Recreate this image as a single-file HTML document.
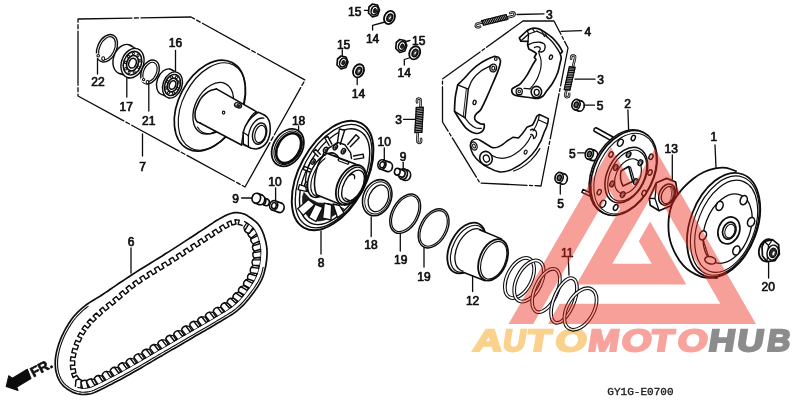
<!DOCTYPE html>
<html><head><meta charset="utf-8"><title>Parts diagram</title>
<style>
html,body{margin:0;padding:0;background:#fff;}
body{width:800px;height:403px;overflow:hidden;}
svg{display:block;}
svg text{font-family:"Liberation Sans",sans-serif;fill:#111;}
</style></head><body>
<svg width="800" height="403" viewBox="0 0 800 403" fill="none" stroke="#0c0c0c" stroke-linecap="round" stroke-linejoin="round">
<rect x="0" y="0" width="800" height="403" fill="#fff" stroke="none"/>
<path d="M78,19 L191,17 L305,80 L245,187 L78,96 Z" fill="none" stroke-width="1.3" stroke-dasharray="54 2.5 4 2.5"/>
<ellipse cx="107" cy="48.3" rx="9.5" ry="14.5" transform="rotate(25 107 48.3)" fill="#fff" stroke-width="1.43" />
<ellipse cx="107" cy="48.3" rx="7.3" ry="12.3" transform="rotate(25 107 48.3)" fill="#fff" stroke-width="1.17" />
<path d="M97.2,55.5 L101.5,57.5" fill="none" stroke-width="4.16" stroke="#fff"/>
<ellipse cx="98.2" cy="55.8" rx="1.3" ry="1.3" transform="rotate(0 98.2 55.8)" fill="#fff" stroke-width="1.04" />
<ellipse cx="103.2" cy="58.6" rx="1.5" ry="1.8" transform="rotate(0 103.2 58.6)" fill="#fff" stroke-width="1.04" />
<ellipse cx="124.5" cy="59.2" rx="11" ry="15.2" transform="rotate(20 124.5 59.2)" fill="#fff" stroke-width="1.43" />
<path d="M135.8,48.5 L127.8,44.5 L121.2,73.9 L129.2,77.9Z" fill="#fff" stroke-width="0.01" stroke="#fff"/>
<line x1="135.82479112743678" y1="48.48036508759276" x2="127.8247911274368" y2="44.48036508759276" stroke-width="1.3" />
<line x1="129.17520887256322" y1="77.91963491240725" x2="121.1752088725632" y2="73.91963491240725" stroke-width="1.3" />
<ellipse cx="132.5" cy="63.2" rx="11" ry="15.2" transform="rotate(20 132.5 63.2)" fill="#fff" stroke-width="1.43" />
<ellipse cx="132.5" cy="63.2" rx="8.8" ry="12.16" transform="rotate(20 132.5 63.2)" fill="none" stroke-width="1.56" />
<ellipse cx="132.5" cy="63.2" rx="5.720000000000001" ry="7.904" transform="rotate(20 132.5 63.2)" fill="none" stroke-width="1.69" />
<ellipse cx="132.5" cy="63.2" rx="3.6300000000000003" ry="5.016" transform="rotate(20 132.5 63.2)" fill="#fff" stroke-width="1.56" />
<ellipse cx="138.5" cy="67.2" rx="1.0" ry="1.2" transform="rotate(20 138.5 67.2)" fill="none" stroke-width="0.91" />
<ellipse cx="134.2" cy="71.9" rx="1.0" ry="1.2" transform="rotate(20 134.2 71.9)" fill="none" stroke-width="0.91" />
<ellipse cx="129.1" cy="72.5" rx="1.0" ry="1.2" transform="rotate(20 129.1 72.5)" fill="none" stroke-width="0.91" />
<ellipse cx="125.6" cy="68.7" rx="1.0" ry="1.2" transform="rotate(20 125.6 68.7)" fill="none" stroke-width="0.91" />
<ellipse cx="125.3" cy="62.4" rx="1.0" ry="1.2" transform="rotate(20 125.3 62.4)" fill="none" stroke-width="0.91" />
<ellipse cx="128.4" cy="56.4" rx="1.0" ry="1.2" transform="rotate(20 128.4 56.4)" fill="none" stroke-width="0.91" />
<ellipse cx="133.4" cy="53.6" rx="1.0" ry="1.2" transform="rotate(20 133.4 53.6)" fill="none" stroke-width="0.91" />
<ellipse cx="138.0" cy="55.3" rx="1.0" ry="1.2" transform="rotate(20 138.0 55.3)" fill="none" stroke-width="0.91" />
<ellipse cx="140.0" cy="60.7" rx="1.0" ry="1.2" transform="rotate(20 140.0 60.7)" fill="none" stroke-width="0.91" />
<ellipse cx="150" cy="72" rx="8.5" ry="12.5" transform="rotate(25 150 72)" fill="#fff" stroke-width="1.43" />
<ellipse cx="150" cy="72" rx="6.3" ry="10.3" transform="rotate(25 150 72)" fill="#fff" stroke-width="1.17" />
<path d="M142.5,79.5 L146,81.5" fill="none" stroke-width="3.9" stroke="#fff"/>
<ellipse cx="143.6" cy="79.6" rx="1.2" ry="1.2" transform="rotate(0 143.6 79.6)" fill="#fff" stroke-width="1.04" />
<ellipse cx="147.5" cy="82.2" rx="1.4" ry="1.6" transform="rotate(0 147.5 82.2)" fill="#fff" stroke-width="1.04" />
<ellipse cx="166.5" cy="82" rx="9.5" ry="13.5" transform="rotate(20 166.5 82)" fill="#fff" stroke-width="1.43" />
<path d="M175.5,71.9 L169.5,68.9 L163.5,95.1 L169.5,98.1Z" fill="#fff" stroke-width="0.01" stroke="#fff"/>
<line x1="175.4969540431697" y1="71.94266003279073" x2="169.4969540431697" y2="68.94266003279073" stroke-width="1.3" />
<line x1="169.5030459568303" y1="98.05733996720927" x2="163.5030459568303" y2="95.05733996720927" stroke-width="1.3" />
<ellipse cx="172.5" cy="85" rx="9.5" ry="13.5" transform="rotate(20 172.5 85)" fill="#fff" stroke-width="1.43" />
<ellipse cx="172.5" cy="85" rx="7.6000000000000005" ry="10.8" transform="rotate(20 172.5 85)" fill="none" stroke-width="1.56" />
<ellipse cx="172.5" cy="85" rx="4.94" ry="7.0200000000000005" transform="rotate(20 172.5 85)" fill="none" stroke-width="1.69" />
<ellipse cx="172.5" cy="85" rx="3.1350000000000002" ry="4.455" transform="rotate(20 172.5 85)" fill="#fff" stroke-width="1.56" />
<ellipse cx="177.7" cy="88.5" rx="1.0" ry="1.2" transform="rotate(20 177.7 88.5)" fill="none" stroke-width="0.91" />
<ellipse cx="173.4" cy="93.0" rx="1.0" ry="1.2" transform="rotate(20 173.4 93.0)" fill="none" stroke-width="0.91" />
<ellipse cx="168.5" cy="92.8" rx="1.0" ry="1.2" transform="rotate(20 168.5 92.8)" fill="none" stroke-width="0.91" />
<ellipse cx="166.0" cy="88.0" rx="1.0" ry="1.2" transform="rotate(20 166.0 88.0)" fill="none" stroke-width="0.91" />
<ellipse cx="167.3" cy="81.5" rx="1.0" ry="1.2" transform="rotate(20 167.3 81.5)" fill="none" stroke-width="0.91" />
<ellipse cx="171.6" cy="77.0" rx="1.0" ry="1.2" transform="rotate(20 171.6 77.0)" fill="none" stroke-width="0.91" />
<ellipse cx="176.5" cy="77.2" rx="1.0" ry="1.2" transform="rotate(20 176.5 77.2)" fill="none" stroke-width="0.91" />
<ellipse cx="179.0" cy="82.0" rx="1.0" ry="1.2" transform="rotate(20 179.0 82.0)" fill="none" stroke-width="0.91" />
<ellipse cx="209.8" cy="105.6" rx="31.2" ry="48.5" transform="rotate(27.3 209.8 105.6)" fill="#fff" stroke-width="1.69" />
<ellipse cx="212" cy="106.5" rx="29.4" ry="46.7" transform="rotate(27.3 212 106.5)" fill="none" stroke-width="1.17" />
<ellipse cx="213.2" cy="108.3" rx="18" ry="27.5" transform="rotate(27 213.2 108.3)" fill="none" stroke-width="1.3" />
<path d="M197.5,127 C200,131.5 205,134 210,133.8 C214,133.5 217,132 219,130" fill="none" stroke-width="1.17" />
<path d="M216.4,88.9 C215.4,89.2 212.3,89.7 210.5,90.5 C208.7,91.3 206.9,92.5 205.3,93.8 C203.7,95.1 202.0,96.8 200.8,98.6 C199.6,100.3 198.8,102.4 197.9,104.3 C197.0,106.2 196.1,108.3 195.6,110.0 C195.1,111.7 195.0,113.3 195.0,114.7 C195.0,116.1 195.1,117.4 195.4,118.5 C195.7,119.6 196.0,120.5 196.8,121.3 C197.6,122.0 199.5,122.7 200.0,123.0 L241.5,145 L256.3,111.6 Z" fill="#fff" stroke-width="0.01" stroke="#fff"/>
<line x1="216.4" y1="88.9" x2="256.3" y2="111.6" stroke-width="1.56" />
<line x1="200" y1="123" x2="241.5" y2="145" stroke-width="1.56" />
<path d="M216.4,88.9 C215.4,89.2 212.3,89.7 210.5,90.5 C208.7,91.3 206.9,92.5 205.3,93.8 C203.7,95.1 202.0,96.8 200.8,98.6 C199.6,100.3 198.8,102.4 197.9,104.3 C197.0,106.2 196.1,108.3 195.6,110.0 C195.1,111.7 195.0,113.3 195.0,114.7 C195.0,116.1 195.1,117.4 195.4,118.5 C195.7,119.6 196.0,120.5 196.8,121.3 C197.6,122.0 199.5,122.7 200.0,123.0" fill="none" stroke-width="1.56" />
<path d="M256.3,111.6 C249,116 243,130 241.5,145" fill="none" stroke-width="1.3" />
<path d="M257.4,112.0 C250.2,116.5 244.2,130.5 242.7,145.0" fill="none" stroke-width="0.72" />
<path d="M258.6,112.5 C251.3,117.0 245.3,131.0 243.8,145.5" fill="none" stroke-width="0.72" />
<path d="M259.8,113.0 C252.4,117.5 246.4,131.5 244.9,146.0" fill="none" stroke-width="0.72" />
<path d="M260.9,113.5 C253.6,118.0 247.6,132.0 246.1,146.5" fill="none" stroke-width="0.72" />
<path d="M258.5,112.3 L262.3,114.1 C266,115.5 269,119 269.8,123.7 C270.8,130 269.8,137 267,142 C264.5,146 261,148.2 256,149 L251,148.3 L243.2,144 L243.2,132.3 C244.5,125 251,116 258.5,112.3 Z" fill="#fff" stroke-width="1.56" />
<path d="M243.2,132.3 L248.4,135.8 L248.4,146.8" fill="none" stroke-width="1.3" />
<path d="M248.4,135.8 C249.5,129 252,124.5 255,121.5 C258,118.5 261,117.5 263.8,118.2" fill="none" stroke-width="1.3" />
<ellipse cx="259.6" cy="133.6" rx="6.8" ry="10.8" transform="rotate(15 259.6 133.6)" fill="#fff" stroke-width="1.43" />
<ellipse cx="260.3" cy="134" rx="5.2" ry="8.8" transform="rotate(15 260.3 134)" fill="none" stroke-width="1.17" />
<ellipse cx="238" cy="105.3" rx="3.6" ry="2.3" transform="rotate(22 238 105.3)" fill="#fff" stroke-width="1.43" />
<ellipse cx="238.4" cy="105.6" rx="1.9" ry="1.0" transform="rotate(22 238.4 105.6)" fill="#333" stroke-width="0.78" />
<ellipse cx="223.6" cy="112.6" rx="1.2" ry="1.5" transform="rotate(0 223.6 112.6)" fill="none" stroke-width="1.17" />
<text x="98" y="86.1" font-size="12" text-anchor="middle" stroke="#111" stroke-width="0.7" >22</text>
<line x1="97.5" y1="59" x2="97.5" y2="74" stroke-width="1.3" />
<text x="126.3" y="111.1" font-size="12" text-anchor="middle" stroke="#111" stroke-width="0.7" >17</text>
<line x1="126.8" y1="78" x2="126.8" y2="97" stroke-width="1.3" />
<text x="148.8" y="125.1" font-size="12" text-anchor="middle" stroke="#111" stroke-width="0.7" >21</text>
<line x1="148.8" y1="83" x2="148.8" y2="111" stroke-width="1.3" />
<text x="175.5" y="47.4" font-size="12" text-anchor="middle" stroke="#111" stroke-width="0.7" >16</text>
<line x1="175.5" y1="50.5" x2="175.5" y2="71" stroke-width="1.3" />
<text x="142.5" y="170.8" font-size="12" text-anchor="middle" stroke="#111" stroke-width="0.7" >7</text>
<line x1="142.5" y1="134" x2="142.5" y2="156" stroke-width="1.3" />
<ellipse cx="287.75" cy="147.65" rx="14.5" ry="20" transform="rotate(31 287.75 147.65)" fill="#fff" stroke-width="1.82" />
<ellipse cx="288.15" cy="147.85" rx="12.6" ry="18.0" transform="rotate(31 288.15 147.85)" fill="none" stroke-width="1.04" />
<ellipse cx="288.65" cy="148.15" rx="10.9" ry="16.1" transform="rotate(31 288.65 148.15)" fill="#fff" stroke-width="2.6" />
<text x="298.6" y="125.3" font-size="12" text-anchor="middle" stroke="#111" stroke-width="0.7" >18</text>
<line x1="298.6" y1="126" x2="298.6" y2="131.5" stroke-width="1.3" />
<ellipse cx="332.6" cy="175.5" rx="33.4" ry="59.5" transform="rotate(28.5 332.6 175.5)" fill="#fff" stroke-width="1.95" />
<ellipse cx="333.6" cy="176.1" rx="31.2" ry="56.3" transform="rotate(28.5 333.6 176.1)" fill="none" stroke-width="1.3" />
<ellipse cx="334.6" cy="176.7" rx="28.2" ry="52.2" transform="rotate(28.5 334.6 176.7)" fill="none" stroke-width="1.43" />
<path d="M330.0,217.6 L328.1,218.6 L326.1,219.4 L324.2,220.0 L322.3,220.5 L320.5,220.8 L318.7,220.9 L317.0,220.8 L315.4,220.6 L313.8,220.2 L312.4,219.7 L311.0,218.9 L309.7,218.0 L308.5,217.0 L307.4,215.7 L306.4,214.4 L305.5,212.9 L304.7,211.2 L304.1,209.4 L303.5,207.5 L303.1,205.4 L302.8,203.3 L302.6,201.0 L302.6,198.7 L302.7,196.2 L304.0,192.5 L310.0,199.0 L318.0,203.0 L328.0,203.5 L338.0,205.5 L344.0,209.0Z" fill="#1c1c1c" stroke-width="0.78" />
<path d="M308.4,199.5 L314.6,204.6 L303.3,215.3 L297.6,208.7Z" fill="#fff" stroke-width="1.3" />
<path d="M315.2,204.3 L322.8,207.4 L316.0,221.5 L308.8,217.3Z" fill="#fff" stroke-width="1.3" />
<path d="M324.3,203.2 L331.6,205.0 L331.0,220.0 L322.6,218.2Z" fill="#fff" stroke-width="1.3" />
<path d="M333.0,204.0 L339.5,205.5 L344.0,213.0 L337.5,217.5Z" fill="#fff" stroke-width="1.3" />
<path d="M299.5,184.6 L308.0,187.4 L307.2,191.6 L298.0,189.6Z" fill="#fff" stroke-width="1.3" />
<path d="M331.8,144.1 L327.8,136.4 L324.8,138.0 L329.2,145.5" fill="#fff" stroke-width="1.43" />
<path d="M340.3,144.3 L344.6,130.2 L339.4,129.0 L337.3,143.7" fill="#fff" stroke-width="1.43" />
<path d="M350.3,146.7 L359.2,137.7 L356.0,134.7 L347.7,144.5" fill="#fff" stroke-width="1.43" />
<path d="M354.2,159.4 L363.7,157.9 L363.1,154.1 L353.6,156.0" fill="#fff" stroke-width="1.43" />
<path d="M320.3,154.2 L315.7,149.6 L313.5,151.8 L318.1,156.4" fill="#fff" stroke-width="1.43" />
<path d="M310.9,169.2 L304.4,166.3 L303.2,169.3 L309.7,172.0" fill="#fff" stroke-width="1.43" />
<path d="M322.4,157 C323,152 327,148.5 331.3,146.5 L337.7,142.4 L345,144.8 L350.6,152.9 L351.5,158.5" fill="none" stroke-width="1.43" />
<path d="M306.5,191 C304,182 306,168 313,158" fill="none" stroke-width="1.3" />
<ellipse cx="325.6" cy="149.9" rx="1.9" ry="2.8" transform="rotate(30 325.6 149.9)" fill="#fff" stroke-width="1.43" />
<ellipse cx="325.90000000000003" cy="150.1" rx="0.9" ry="1.5" transform="rotate(30 325.90000000000003 150.1)" fill="#333" stroke-width="0.52" />
<ellipse cx="335.3" cy="147.3" rx="1.9" ry="2.8" transform="rotate(30 335.3 147.3)" fill="#fff" stroke-width="1.43" />
<ellipse cx="335.6" cy="147.5" rx="0.9" ry="1.5" transform="rotate(30 335.6 147.5)" fill="#333" stroke-width="0.52" />
<ellipse cx="343.4" cy="151.3" rx="1.9" ry="2.8" transform="rotate(30 343.4 151.3)" fill="#fff" stroke-width="1.43" />
<ellipse cx="343.7" cy="151.5" rx="0.9" ry="1.5" transform="rotate(30 343.7 151.5)" fill="#333" stroke-width="0.52" />
<ellipse cx="313" cy="161.5" rx="1.9" ry="2.8" transform="rotate(30 313 161.5)" fill="#fff" stroke-width="1.43" />
<ellipse cx="313.3" cy="161.7" rx="0.9" ry="1.5" transform="rotate(30 313.3 161.7)" fill="#333" stroke-width="0.52" />
<ellipse cx="306.8" cy="184.5" rx="1.9" ry="2.8" transform="rotate(30 306.8 184.5)" fill="#fff" stroke-width="1.43" />
<ellipse cx="307.1" cy="184.7" rx="0.9" ry="1.5" transform="rotate(30 307.1 184.7)" fill="#333" stroke-width="0.52" />
<ellipse cx="313" cy="193.8" rx="1.9" ry="2.8" transform="rotate(30 313 193.8)" fill="#fff" stroke-width="1.43" />
<ellipse cx="313.3" cy="194.0" rx="0.9" ry="1.5" transform="rotate(30 313.3 194.0)" fill="#333" stroke-width="0.52" />
<ellipse cx="323.8" cy="175.2" rx="13.2" ry="24.2" transform="rotate(28 323.8 175.2)" fill="#fff" stroke-width="1.56" />
<ellipse cx="325.6" cy="176" rx="11.8" ry="22.4" transform="rotate(28 325.6 176)" fill="none" stroke-width="1.17" />
<path d="M326.7,153.2 L356,164.2 L341.8,205 L316.5,194.8 Z" fill="#fff" stroke-width="0.01" stroke="#fff"/>
<line x1="326.7" y1="153.2" x2="356" y2="164.2" stroke-width="1.56" />
<line x1="316.5" y1="194.8" x2="341.8" y2="205" stroke-width="1.56" />
<path d="M326.7,153.2 C318,157 311,182 316.5,194.8" fill="none" stroke-width="1.56" />
<path d="M339.6,158.6 L347.8,161.6 C349.3,162.5 348.8,164.3 347.2,164 L339,161 C337.6,160.2 338,158.3 339.6,158.6 Z" fill="none" stroke-width="1.3" />
<ellipse cx="351" cy="185" rx="12.8" ry="21.5" transform="rotate(28 351 185)" fill="#fff" stroke-width="1.82" />
<ellipse cx="351.8" cy="185.3" rx="11.2" ry="19.6" transform="rotate(28 351.8 185.3)" fill="none" stroke-width="1.3" />
<ellipse cx="353" cy="185.8" rx="9.2" ry="17" transform="rotate(28 353 185.8)" fill="none" stroke-width="1.43" />
<path d="M349.5,175.5 C352,173 355.5,174.5 354.5,178.5" fill="none" stroke-width="1.3" />
<path d="M345,198 C350,203 357,200 361,193" fill="none" stroke-width="1.17" />
<text x="321" y="266.8" font-size="12" text-anchor="middle" stroke="#111" stroke-width="0.7" >8</text>
<line x1="321" y1="231" x2="321" y2="254" stroke-width="1.3" />
<ellipse cx="377.2" cy="197.7" rx="13.9" ry="18.7" transform="rotate(23 377.2 197.7)" fill="#fff" stroke-width="1.56" />
<ellipse cx="377.59999999999997" cy="197.89999999999998" rx="12.0" ry="16.7" transform="rotate(23 377.59999999999997 197.89999999999998)" fill="none" stroke-width="0.91" />
<ellipse cx="378.4" cy="198.29999999999998" rx="9.5" ry="13.899999999999999" transform="rotate(23 378.4 198.29999999999998)" fill="#fff" stroke-width="1.3" />
<text x="371" y="249.3" font-size="12" text-anchor="middle" stroke="#111" stroke-width="0.7" >18</text>
<line x1="371.2" y1="217" x2="371.2" y2="236.5" stroke-width="1.3" />
<ellipse cx="405.2" cy="213.7" rx="13.2" ry="21.2" transform="rotate(28.8 405.2 213.7)" fill="#fff" stroke-width="1.43" />
<ellipse cx="405.2" cy="213.7" rx="11.399999999999999" ry="19.4" transform="rotate(28.8 405.2 213.7)" fill="#fff" stroke-width="1.17" />
<ellipse cx="433.6" cy="228.4" rx="13.4" ry="21" transform="rotate(28.4 433.6 228.4)" fill="#fff" stroke-width="1.43" />
<ellipse cx="433.6" cy="228.4" rx="11.6" ry="19.2" transform="rotate(28.4 433.6 228.4)" fill="#fff" stroke-width="1.17" />
<text x="400.8" y="263.8" font-size="12" text-anchor="middle" stroke="#111" stroke-width="0.7" >19</text>
<line x1="400.3" y1="233.5" x2="400.3" y2="251" stroke-width="1.3" />
<text x="424" y="280.8" font-size="12" text-anchor="middle" stroke="#111" stroke-width="0.7" >19</text>
<line x1="424" y1="247.5" x2="424" y2="267" stroke-width="1.3" />
<ellipse cx="466.5" cy="248" rx="16.5" ry="27.2" transform="rotate(27 466.5 248)" fill="#fff" stroke-width="1.82" />
<ellipse cx="468" cy="248.8" rx="15" ry="25.2" transform="rotate(27 468 248.8)" fill="none" stroke-width="1.17" />
<ellipse cx="470.5" cy="250" rx="13.6" ry="22.6" transform="rotate(25 470.5 250)" fill="#fff" stroke-width="1.3" />
<path d="M478.5,229.5 L501,238.8 L485.5,281 L463,272 Z" fill="#fff" stroke-width="0.01" stroke="#fff"/>
<line x1="479.5" y1="229.8" x2="501.5" y2="238.9" stroke-width="1.56" />
<line x1="463.2" y1="272.3" x2="485" y2="280.8" stroke-width="1.56" />
<ellipse cx="493.1" cy="259.9" rx="13.4" ry="21.8" transform="rotate(22.8 493.1 259.9)" fill="#fff" stroke-width="1.82" />
<ellipse cx="493.7" cy="260.2" rx="11.6" ry="19.8" transform="rotate(22.8 493.7 260.2)" fill="none" stroke-width="1.17" />
<text x="472.6" y="304.8" font-size="12" text-anchor="middle" stroke="#111" stroke-width="0.7" >12</text>
<line x1="472.6" y1="276" x2="472.6" y2="291.5" stroke-width="1.3" />
<ellipse cx="519.5" cy="278" rx="12.2" ry="21.7" transform="rotate(27 519.5 278)" fill="none" stroke-width="3.7" />
<ellipse cx="519.5" cy="278" rx="12.2" ry="21.7" transform="rotate(27 519.5 278)" fill="none" stroke-width="1.6" stroke="#fff"/>
<ellipse cx="529" cy="281" rx="12.2" ry="22.2" transform="rotate(27 529 281)" fill="none" stroke-width="3.7" />
<ellipse cx="529" cy="281" rx="12.2" ry="22.2" transform="rotate(27 529 281)" fill="none" stroke-width="1.6" stroke="#fff"/>
<ellipse cx="546" cy="290.5" rx="11.2" ry="23.2" transform="rotate(24 546 290.5)" fill="none" stroke-width="3.7" />
<ellipse cx="546" cy="290.5" rx="11.2" ry="23.2" transform="rotate(24 546 290.5)" fill="none" stroke-width="1.6" stroke="#fff"/>
<ellipse cx="564" cy="300.5" rx="10.2" ry="23.7" transform="rotate(22 564 300.5)" fill="none" stroke-width="3.7" />
<ellipse cx="564" cy="300.5" rx="10.2" ry="23.7" transform="rotate(22 564 300.5)" fill="none" stroke-width="1.6" stroke="#fff"/>
<ellipse cx="580.5" cy="309" rx="13.2" ry="22.7" transform="rotate(30 580.5 309)" fill="none" stroke-width="3.7" />
<ellipse cx="580.5" cy="309" rx="13.2" ry="22.7" transform="rotate(30 580.5 309)" fill="none" stroke-width="1.6" stroke="#fff"/>
<text x="567.2" y="256.5" font-size="12" text-anchor="middle" stroke="#111" stroke-width="0.7" >11</text>
<line x1="568.3" y1="257.5" x2="569" y2="275" stroke-width="1.3" />
<path d="M71.8,319.1 L73.0,317.5 L74.2,316.0 L75.5,314.6 L76.8,313.2 L78.1,311.9 L79.4,310.6 L80.8,309.4 L82.2,308.2 L83.7,306.9 L85.2,305.7 L86.7,304.5 L88.2,303.5 L89.8,302.4 L91.3,301.5 L92.9,300.5 L94.6,299.5 L96.4,298.4 L98.3,297.2 L100.4,296.0 L102.6,294.5 L105.0,292.9 L107.6,291.2 L110.3,289.3 L113.1,287.4 L116.0,285.4 L119.0,283.3 L122.2,281.2 L125.4,279.1 L128.6,277.0 L131.9,274.8 L135.3,272.6 L138.9,270.3 L142.6,268.0 L146.4,265.7 L150.3,263.3 L154.1,260.9 L158.0,258.5 L161.8,256.2 L165.4,253.8 L169.0,251.6 L172.5,249.4 L176.0,247.1 L179.5,244.9 L182.9,242.6 L186.3,240.4 L189.6,238.3 L192.8,236.2 L195.8,234.2 L198.6,232.3 L201.3,230.6 L203.8,229.0 L206.0,227.5 L208.1,226.1 L210.1,224.8 L211.9,223.6 L213.7,222.4 L215.3,221.3 L216.9,220.3 L218.5,219.4 L220.0,218.5 L221.5,217.7 L222.9,216.9 L224.2,216.2 L225.4,215.6 L226.6,215.1 L227.7,214.6 L228.8,214.2 L229.9,213.8 L230.9,213.5 L231.9,213.2 L232.9,213.0 L233.8,212.8 L234.6,212.7 L235.4,212.6 L236.2,212.6 L236.9,212.6 L237.7,212.7 L238.4,212.7 L239.2,212.9 L240.0,213.0 L240.8,213.1 L241.6,213.3 L242.3,213.5 L243.0,213.7 L243.8,213.9 L244.6,214.2 L245.4,214.6 L246.2,215.0 L247.1,215.5 L248.0,216.1 L249.0,216.8 L250.1,217.5 L251.3,218.3 L252.6,219.2 L253.8,220.1 L255.0,221.1 L256.2,222.2 L257.4,223.3 L258.4,224.5 L259.4,225.8 L260.3,227.2 L261.1,228.6 L261.9,230.2 L262.6,231.8 L263.2,233.4 L263.9,235.1 L264.4,236.9 L264.9,238.6 L265.4,240.3 L265.8,241.9 L266.1,243.5 L266.4,245.1 L266.7,246.7 L266.8,248.2 L267.0,249.8 L267.0,251.4 L267.1,253.0 L267.0,254.7 L266.9,256.4 L266.8,258.1 L266.6,259.9 L266.4,261.8 L266.1,263.8 L265.8,265.8 L265.4,267.8 L264.9,269.8 L264.4,271.7 L263.9,273.7 L263.3,275.6 L262.6,277.4 L261.9,279.1 L261.1,280.8 L260.2,282.5 L259.3,284.1 L258.4,285.6 L257.4,287.2 L256.3,288.8 L255.2,290.3 L254.1,291.9 L252.9,293.5 L251.7,295.1 L250.4,296.8 L249.1,298.5 L247.7,300.1 L246.3,301.8 L244.8,303.5 L243.3,305.1 L241.7,306.7 L240.1,308.2 L238.4,309.7 L236.7,311.1 L235.0,312.4 L233.3,313.6 L231.5,314.8 L229.7,315.9 L227.7,317.1 L225.7,318.3 L223.6,319.5 L221.4,320.9 L219.0,322.3 L216.4,323.8 L213.7,325.5 L210.8,327.2 L207.8,328.9 L204.8,330.7 L201.6,332.5 L198.5,334.3 L195.3,336.1 L192.2,337.9 L189.2,339.7 L186.2,341.4 L183.2,343.2 L180.3,344.9 L177.3,346.7 L174.3,348.4 L171.3,350.1 L168.3,351.9 L165.4,353.6 L162.4,355.4 L159.4,357.1 L156.4,358.8 L153.4,360.6 L150.4,362.4 L147.4,364.1 L144.4,365.9 L141.4,367.7 L138.4,369.4 L135.5,371.1 L132.5,372.8 L129.6,374.4 L126.6,376.0 L123.6,377.7 L120.5,379.4 L117.5,381.0 L114.4,382.6 L111.5,384.2 L108.6,385.6 L106.0,387.0 L103.5,388.2 L101.3,389.3 L99.4,390.2 L97.7,391.0 L96.2,391.7 L94.9,392.3 L93.7,392.8 L92.5,393.2 L91.5,393.5 L90.3,393.8 L89.2,394.0 L87.9,394.2 L86.6,394.4 L85.2,394.4 L83.8,394.5 L82.5,394.5 L81.1,394.4 L79.8,394.2 L78.4,394.0 L77.1,393.7 L75.8,393.3 L74.5,392.9 L73.2,392.4 L71.9,391.8 L70.6,391.1 L69.3,390.3 L68.0,389.5 L66.7,388.7 L65.5,387.7 L64.4,386.8 L63.4,385.8 L62.4,384.8 L61.5,383.8 L60.7,382.7 L60.0,381.6 L59.3,380.4 L58.6,379.2 L58.1,378.0 L57.5,376.7 L57.1,375.4 L56.7,374.1 L56.3,372.7 L56.0,371.3 L55.7,369.8 L55.5,368.3 L55.4,366.7 L55.3,365.1 L55.2,363.5 L55.3,361.8 L55.3,360.1 L55.5,358.4 L55.7,356.7 L56.0,354.9 L56.3,353.1 L56.7,351.3 L57.2,349.4 L57.7,347.5 L58.3,345.6 L58.9,343.6 L59.6,341.7 L60.3,339.8 L61.1,337.9 L61.9,336.0 L62.9,334.1 L63.8,332.1 L64.9,330.1 L65.9,328.2 L67.1,326.2 L68.2,324.3 L69.4,322.5 L70.6,320.8 L71.8,319.1Z" fill="#fff" stroke-width="1.69" />
<path d="M263.1,267.3 L262.7,269.2 L262.2,271.2 L261.7,273.0 L261.1,274.8 L260.5,276.6 L259.8,278.2 L259.0,279.8 L258.2,281.4 L257.4,282.9 L256.4,284.4 L255.5,285.9 L254.4,287.5 L253.4,289.0 L252.2,290.5 L251.1,292.1 L249.8,293.7 L248.6,295.4 L247.3,297.0 L245.9,298.7 L244.5,300.3 L243.1,301.9 L241.6,303.5 L240.1,305.0 L238.5,306.5 L236.9,307.9 L235.3,309.3 L233.6,310.5 L232.0,311.7 L230.2,312.8 L228.4,314.0 L226.6,315.1 L224.6,316.3 L222.5,317.6 L220.2,318.9 L217.8,320.3 L215.3,321.9 L212.5,323.5 L209.7,325.2 L206.7,326.9 L203.6,328.7 L200.5,330.5 L197.3,332.3 L194.2,334.2 L191.1,335.9 L188.0,337.7 L185.1,339.5 L182.1,341.2 L179.1,342.9 L176.1,344.7 L173.1,346.4 L170.2,348.2 L167.2,349.9 L164.2,351.6 L161.2,353.4 L158.2,355.1 L155.3,356.9 L152.3,358.6 L149.2,360.4 L146.2,362.2 L143.2,363.9 L140.3,365.7 L137.3,367.4 L134.3,369.1 L131.4,370.8 L128.5,372.4 L125.5,374.0 L122.5,375.7 L119.4,377.3 L116.4,379.0 L113.4,380.6 L110.4,382.1 L107.6,383.6 L104.9,384.9 L102.5,386.2 L100.3,387.2 L98.4,388.1 L96.7,388.9 L95.2,389.6 L94.0,390.2 L92.8,390.6 L91.8,391.0 L90.8,391.3 L89.8,391.5 L88.8,391.7 L87.6,391.9 L86.3,392.1 L85.1,392.1 L83.8,392.2 L82.6,392.2 L81.3,392.1 L80.1,391.9 L78.9,391.7 L77.6,391.5 L76.5,391.1 L75.3,390.7 L74.1,390.3 L72.9,389.7 L71.7,389.1 L70.5,388.4 L69.3,387.6 L68.1,386.8 L67.0,385.9 L65.9,385.1 L65.0,384.2 L64.1,383.3 L63.3,382.3 L62.6,381.4 L61.9,380.3 L61.3,379.3 L60.7,378.2 L60.2,377.1 L59.7,375.9 L59.3,374.7 L58.9,373.5 L58.5,372.2 L58.2,370.8 L58.0,369.4 L57.8,368.0 L57.7,366.5 L57.6,365.0 L57.5,363.5 L57.6,361.9 L57.6,360.3 L57.8,358.7 L58.0,357.0 L58.2,355.3 L58.6,353.6 L59.0,351.8 L59.4,350.0 L59.9,348.1 L60.5,346.2 L61.1,344.4 L61.7,342.5 L62.5,340.6 L63.2,338.8 L64.0,337.0 L64.9,335.1 L65.9,333.1 L66.9,331.2 L68.0,329.3 L69.0,327.4 L70.2,325.6 L71.3,323.8 L72.5,322.1 L73.6,320.5 L74.8,319.0 L76.0,317.5 L77.2,316.2 L78.4,314.8 L79.7,313.6 L81.0,312.3 L82.3,311.1 L83.7,309.9 L85.1,308.7 L86.6,307.5 L88.1,306.4" fill="none" stroke-width="1.1" />
<path d="M78.5,384.5 L75.7,381.2 L79.2,378.8 L76.7,375.3 L73.2,377.7 L71.7,373.7 L75.9,372.8 L75.1,368.6 L70.8,369.5 L70.4,365.2 L74.7,365.2 L74.7,360.9 L70.4,360.9 L70.9,356.7 L75.1,357.6 L76.0,353.4 L71.8,352.5 L73.0,348.3 L77.0,349.7 L78.4,345.7 L74.3,344.3 L75.9,340.3 L79.8,342.1 L81.7,338.2 L77.8,336.4 L79.8,332.6 L83.4,334.8 L85.7,331.2 L82.0,328.9 L84.5,325.4 L87.9,328.1 L90.6,324.8 L87.2,322.1 L90.1,318.9 L93.1,322.0 L96.2,319.0 L93.2,315.9 L96.4,313.0 L99.3,316.2 L102.5,313.3 L99.6,310.1 L102.8,307.3 L105.5,310.7 L108.9,308.0 L106.2,304.6 L109.6,302.0 L112.3,305.3 L115.6,302.6 L112.9,299.2 L116.2,296.5 L119.0,299.7 L122.2,296.9 L119.4,293.6 L122.7,290.8 L125.4,294.1 L128.7,291.4 L126.0,288.1 L129.3,285.4 L131.9,288.8 L135.3,286.2 L132.7,282.8 L136.2,280.3 L138.6,283.8 L142.2,281.4 L139.8,277.9 L143.4,275.5 L145.7,279.1 L149.3,276.8 L147.0,273.2 L150.7,270.9 L152.9,274.6 L156.6,272.4 L154.4,268.7 L158.0,266.5 L160.3,270.1 L163.9,267.9 L161.7,264.2 L165.4,262.0 L167.6,265.6 L171.3,263.4 L169.0,259.7 L172.7,257.4 L175.0,261.0 L178.6,258.7 L176.3,255.1 L179.9,252.8 L182.2,256.4 L185.8,254.0 L183.5,250.4 L187.1,248.1 L189.5,251.7 L193.1,249.3 L190.7,245.7 L194.3,243.4 L196.7,247.0 L200.3,244.6 L197.9,241.0 L201.5,238.7 L203.8,242.3 L207.5,239.9 L205.1,236.3 L208.7,234.0 L211.1,237.6 L214.7,235.2 L212.3,231.6 L215.9,229.3 L218.2,232.9 L221.9,230.6 L219.6,227.0 L223.2,224.8 L225.4,228.5 L229.1,226.4 L227.0,222.7 L230.9,220.8 L231.9,225.0 L236.0,224.0 L235.0,219.8 L239.3,220.1 L238.1,224.2 L242.2,225.4" fill="none" stroke-width="1.43" />
<path d="M244.5,221.5 L245.5,222.1 L246.6,222.8 L247.7,223.6 L248.8,224.4 L249.9,225.2 L250.9,226.0 L251.9,226.9 L252.7,227.7 L253.5,228.6 L254.2,229.5 L254.8,230.4 L255.4,231.6 L256.1,232.9 L256.7,234.3 L257.3,235.7 L257.8,237.2 L258.3,238.8 L258.8,240.3 L259.2,241.8 L259.6,243.3 L259.9,244.7 L260.1,246.1 L260.3,247.5 L260.5,248.8 L260.6,250.2 L260.6,251.6 L260.7,253.0 L260.6,254.4 L260.5,255.9 L260.4,257.5 L260.3,259.2 L260.0,261.0 L259.8,262.8 L259.5,264.6 L259.1,266.5 L258.7,268.3 L258.2,270.1 L257.7,271.8 L257.2,273.5 L256.6,275.1 L256.0,276.6 L255.3,278.0 L254.6,279.4 L253.8,280.8 L253.0,282.3 L252.0,283.7 L251.1,285.1 L250.0,286.6 L248.9,288.1 L247.8,289.7 L246.6,291.2 L245.3,292.8 L244.1,294.4 L242.8,296.0 L241.4,297.6 L240.1,299.2 L238.6,300.7 L237.2,302.1 L235.7,303.5 L234.3,304.8 L232.7,306.1 L231.2,307.2 L229.7,308.3 L228.0,309.4 L226.3,310.5 L224.4,311.6 L222.5,312.8 L220.4,314.0 L218.1,315.4 L215.7,316.8 L213.2,318.4 L210.4,320.0 L207.6,321.6 L204.6,323.4 L201.5,325.2 L198.4,327.0 L195.3,328.8 L192.1,330.6 L189.0,332.4 L186.0,334.2 L183.0,335.9 L180.0,337.7 L177.0,339.4 L174.1,341.1 L171.1,342.9 L168.1,344.6 L165.1,346.4 L162.1,348.1 L159.2,349.8 L156.2,351.6 L153.2,353.3 L150.2,355.1 L147.2,356.9 L144.2,358.6 L141.2,360.4 L138.2,362.1 L135.2,363.8 L132.3,365.5 L129.4,367.2 L126.5,368.8 L123.6,370.4 L120.5,372.1 L117.5,373.7 L114.4,375.4 L111.4,377.0 L108.5,378.5 L105.7,379.9 L103.1,381.3 L100.7,382.5 L98.5,383.5 L96.6,384.4 L95.0,385.2 L93.6,385.9 L92.4,386.4 L91.4,386.8 L90.5,387.1 L89.7,387.3 L89.0,387.5 L88.1,387.7 L87.1,387.9 L86.0,388.0 L84.9,388.1 L83.8,388.1 L82.8,388.1 L81.7,388.0 L80.7,387.9 L79.6,387.7 L78.6,387.5 L77.7,387.2" fill="none" stroke-width="1.3" />
<path d="M75.4,386.3 L76.0,380.1 Q79.0,378.5 81.5,380.3 L80.9,387.6" fill="#fff" stroke-width="1.43" />
<path d="M81.5,380.3 L83.8,382.9 L83.0,388.1" fill="none" stroke-width="1.3" />
<path d="M82.3,388.0 L80.9,381.9 Q83.2,379.5 86.2,380.4 L87.9,387.4" fill="#fff" stroke-width="1.43" />
<path d="M86.2,380.4 L89.2,382.1 L90.1,387.2" fill="none" stroke-width="1.3" />
<path d="M89.5,387.3 L86.4,381.9 Q87.9,378.9 91.0,378.9 L94.7,385.2" fill="#fff" stroke-width="1.43" />
<path d="M91.0,378.9 L94.4,379.7 L96.8,384.3" fill="none" stroke-width="1.3" />
<path d="M97.6,383.9 L94.2,378.7 Q95.4,375.7 98.6,375.5 L102.7,381.5" fill="#fff" stroke-width="1.43" />
<path d="M98.6,375.5 L102.0,376.0 L104.6,380.5" fill="none" stroke-width="1.3" />
<path d="M105.7,379.9 L102.2,374.8 Q103.3,371.7 106.5,371.4 L110.7,377.3" fill="#fff" stroke-width="1.43" />
<path d="M106.5,371.4 L109.9,371.9 L112.6,376.3" fill="none" stroke-width="1.3" />
<path d="M113.8,375.7 L110.2,370.6 Q111.3,367.5 114.4,367.2 L118.7,373.0" fill="#fff" stroke-width="1.43" />
<path d="M114.4,367.2 L117.9,367.6 L120.7,372.0" fill="none" stroke-width="1.3" />
<path d="M121.8,371.4 L118.1,366.3 Q119.3,363.2 122.4,362.8 L126.7,368.6" fill="#fff" stroke-width="1.43" />
<path d="M122.4,362.8 L125.8,363.2 L128.7,367.6" fill="none" stroke-width="1.3" />
<path d="M129.8,366.9 L126.0,362.0 Q127.1,358.8 130.2,358.4 L134.7,364.2" fill="#fff" stroke-width="1.43" />
<path d="M130.2,358.4 L133.6,358.8 L136.6,363.1" fill="none" stroke-width="1.3" />
<path d="M137.7,362.4 L133.9,357.4 Q135.0,354.3 138.1,353.9 L142.6,359.6" fill="#fff" stroke-width="1.43" />
<path d="M138.1,353.9 L141.5,354.2 L144.5,358.4" fill="none" stroke-width="1.3" />
<path d="M145.7,357.7 L141.8,352.8 Q142.9,349.6 146.0,349.2 L150.5,354.9" fill="#fff" stroke-width="1.43" />
<path d="M146.0,349.2 L149.4,349.5 L152.4,353.8" fill="none" stroke-width="1.3" />
<path d="M153.6,353.1 L149.8,348.1 Q150.8,345.0 154.0,344.5 L158.4,350.2" fill="#fff" stroke-width="1.43" />
<path d="M154.0,344.5 L157.4,344.9 L160.3,349.1" fill="none" stroke-width="1.3" />
<path d="M161.6,348.4 L157.7,343.5 Q158.8,340.3 161.9,339.9 L166.4,345.6" fill="#fff" stroke-width="1.43" />
<path d="M161.9,339.9 L165.3,340.2 L168.3,344.5" fill="none" stroke-width="1.3" />
<path d="M169.5,343.8 L165.7,338.8 Q166.7,335.7 169.8,335.3 L174.3,341.0" fill="#fff" stroke-width="1.43" />
<path d="M169.8,335.3 L173.3,335.6 L176.2,339.9" fill="none" stroke-width="1.3" />
<path d="M177.4,339.2 L173.6,334.2 Q174.7,331.0 177.8,330.6 L182.3,336.3" fill="#fff" stroke-width="1.43" />
<path d="M177.8,330.6 L181.2,330.9 L184.2,335.2" fill="none" stroke-width="1.3" />
<path d="M185.4,334.5 L181.6,329.6 Q182.7,326.4 185.8,326.0 L190.2,331.7" fill="#fff" stroke-width="1.43" />
<path d="M185.8,326.0 L189.2,326.3 L192.1,330.6" fill="none" stroke-width="1.3" />
<path d="M193.4,329.9 L189.6,324.9 Q190.6,321.8 193.8,321.3 L198.2,327.1" fill="#fff" stroke-width="1.43" />
<path d="M193.8,321.3 L197.2,321.7 L200.1,326.0" fill="none" stroke-width="1.3" />
<path d="M201.3,325.3 L197.5,320.3 Q198.6,317.2 201.7,316.8 L206.2,322.5" fill="#fff" stroke-width="1.43" />
<path d="M201.7,316.8 L205.1,317.1 L208.1,321.4" fill="none" stroke-width="1.3" />
<path d="M209.2,320.7 L205.3,315.8 Q206.4,312.6 209.5,312.1 L214.0,317.8" fill="#fff" stroke-width="1.43" />
<path d="M209.5,312.1 L212.9,312.4 L215.9,316.7" fill="none" stroke-width="1.3" />
<path d="M217.1,316.0 L213.2,311.1 Q214.3,307.9 217.4,307.4 L221.9,313.1" fill="#fff" stroke-width="1.43" />
<path d="M217.4,307.4 L220.8,307.7 L223.8,312.0" fill="none" stroke-width="1.3" />
<path d="M224.8,311.4 L220.7,306.6 Q221.6,303.4 224.7,302.8 L229.5,308.3" fill="#fff" stroke-width="1.43" />
<path d="M224.7,302.8 L228.1,303.0 L231.3,307.1" fill="none" stroke-width="1.3" />
<path d="M231.7,306.8 L227.0,302.6 Q227.5,299.3 230.5,298.3 L235.9,303.1" fill="#fff" stroke-width="1.43" />
<path d="M230.5,298.3 L233.9,298.0 L237.6,301.7" fill="none" stroke-width="1.3" />
<path d="M238.0,301.3 L232.9,297.7 Q232.9,294.4 235.7,293.0 L241.8,297.1" fill="#fff" stroke-width="1.43" />
<path d="M235.7,293.0 L239.1,292.3 L243.2,295.5" fill="none" stroke-width="1.3" />
<path d="M243.8,294.7 L238.4,291.6 Q238.2,288.3 240.9,286.7 L247.2,290.3" fill="#fff" stroke-width="1.43" />
<path d="M240.9,286.7 L244.2,285.7 L248.6,288.6" fill="none" stroke-width="1.3" />
<path d="M249.2,287.8 L243.6,285.0 Q243.1,281.7 245.8,279.9 L252.3,283.1" fill="#fff" stroke-width="1.43" />
<path d="M245.8,279.9 L249.0,278.7 L253.5,281.3" fill="none" stroke-width="1.3" />
<path d="M253.7,280.9 L247.8,279.0 Q246.8,275.8 249.2,273.7 L256.1,275.9" fill="#fff" stroke-width="1.43" />
<path d="M249.2,273.7 L252.2,272.0 L257.1,273.9" fill="none" stroke-width="1.3" />
<path d="M257.1,273.6 L250.9,272.8 Q249.4,269.8 251.4,267.3 L258.6,268.2" fill="#fff" stroke-width="1.43" />
<path d="M251.4,267.3 L254.0,265.1 L259.1,266.1" fill="none" stroke-width="1.3" />
<path d="M259.3,265.5 L253.0,265.4 Q251.2,262.6 252.8,259.9 L260.1,259.9" fill="#fff" stroke-width="1.43" />
<path d="M252.8,259.9 L255.2,257.4 L260.4,257.8" fill="none" stroke-width="1.3" />
<path d="M260.4,257.2 L254.2,258.0 Q252.0,255.5 253.3,252.6 L260.5,251.6" fill="#fff" stroke-width="1.43" />
<path d="M253.3,252.6 L255.3,249.8 L260.5,249.4" fill="none" stroke-width="1.3" />
<path d="M260.5,249.2 L254.5,251.1 Q251.9,249.0 252.6,246.0 L259.5,243.7" fill="#fff" stroke-width="1.43" />
<path d="M252.6,246.0 L254.0,242.9 L259.1,241.6" fill="none" stroke-width="1.3" />
<path d="M259.0,241.2 L253.4,244.0 Q250.5,242.3 250.7,239.2 L257.2,235.9" fill="#fff" stroke-width="1.43" />
<path d="M250.7,239.2 L251.7,235.9 L256.5,233.8" fill="none" stroke-width="1.3" />
<path d="M256.5,233.9 L251.6,237.9 Q248.4,236.9 247.9,233.8 L253.5,229.2" fill="#fff" stroke-width="1.43" />
<path d="M247.9,233.8 L248.1,230.4 L252.3,227.3" fill="none" stroke-width="1.3" />
<path d="M252.8,227.9 L249.5,233.2 Q246.2,233.3 244.7,230.6 L248.5,224.4" fill="#fff" stroke-width="1.43" />
<path d="M244.7,230.6 L243.8,227.3 L246.7,223.0" fill="none" stroke-width="1.3" />
<text x="131" y="246.3" font-size="12" text-anchor="middle" stroke="#111" stroke-width="0.7" >6</text>
<line x1="131" y1="248" x2="131" y2="273" stroke-width="1.3" />
<path d="M6.2,386.6 L8.7,375.8 L12.4,378.2 L27.3,369.2 L31,378.5 L16.8,387 L18,390.5 Z" fill="#0c0c0c" stroke-width="1.04" />
<text transform="translate(33.4,377.6) rotate(-28)" font-size="14" font-weight="bold" textLength="23" lengthAdjust="spacingAndGlyphs" stroke="#111" stroke-width="0.6">FR.</text>
<path d="M369,7.0 L372.5,4.0 L377.5,5.0 L379.5,10.0 L377.5,15.5 L372.5,17.0 L368.5,13.0 Z" fill="#fff" stroke-width="1.69" />
<ellipse cx="374.6" cy="10.5" rx="3.3" ry="4.6" transform="rotate(20 374.6 10.5)" fill="#fff" stroke-width="1.56" />
<ellipse cx="374.9" cy="10.7" rx="1.6" ry="2.4" transform="rotate(20 374.9 10.7)" fill="#222" stroke-width="0.78" />
<ellipse cx="389.5" cy="17.5" rx="5.2" ry="6.8" transform="rotate(25 389.5 17.5)" fill="#fff" stroke-width="1.82" />
<ellipse cx="389.8" cy="17.7" rx="2.6" ry="3.8" transform="rotate(25 389.8 17.7)" fill="#555" stroke-width="1.56" />
<ellipse cx="390.1" cy="17.8" rx="1.2" ry="2.0" transform="rotate(25 390.1 17.8)" fill="#fff" stroke-width="0.65" />
<path d="M337.5,59.0 L341.0,56.0 L346.0,57.0 L348.0,62.0 L346.0,67.5 L341.0,69.0 L337.0,65.0 Z" fill="#fff" stroke-width="1.69" />
<ellipse cx="343.1" cy="62.5" rx="3.3" ry="4.6" transform="rotate(20 343.1 62.5)" fill="#fff" stroke-width="1.56" />
<ellipse cx="343.4" cy="62.7" rx="1.6" ry="2.4" transform="rotate(20 343.4 62.7)" fill="#222" stroke-width="0.78" />
<ellipse cx="358.5" cy="70.8" rx="5.2" ry="6.8" transform="rotate(25 358.5 70.8)" fill="#fff" stroke-width="1.82" />
<ellipse cx="358.8" cy="71.0" rx="2.6" ry="3.8" transform="rotate(25 358.8 71.0)" fill="#555" stroke-width="1.56" />
<ellipse cx="359.1" cy="71.1" rx="1.2" ry="2.0" transform="rotate(25 359.1 71.1)" fill="#fff" stroke-width="0.65" />
<path d="M396.3,42.5 L399.8,39.5 L404.8,40.5 L406.8,45.5 L404.8,51 L399.8,52.5 L395.8,48.5 Z" fill="#fff" stroke-width="1.69" />
<ellipse cx="401.90000000000003" cy="46" rx="3.3" ry="4.6" transform="rotate(20 401.90000000000003 46)" fill="#fff" stroke-width="1.56" />
<ellipse cx="402.2" cy="46.2" rx="1.6" ry="2.4" transform="rotate(20 402.2 46.2)" fill="#222" stroke-width="0.78" />
<ellipse cx="414.7" cy="52.8" rx="5.2" ry="6.8" transform="rotate(25 414.7 52.8)" fill="#fff" stroke-width="1.82" />
<ellipse cx="415.0" cy="53.0" rx="2.6" ry="3.8" transform="rotate(25 415.0 53.0)" fill="#555" stroke-width="1.56" />
<ellipse cx="415.3" cy="53.099999999999994" rx="1.2" ry="2.0" transform="rotate(25 415.3 53.099999999999994)" fill="#fff" stroke-width="0.65" />
<text x="354.7" y="15.8" font-size="12" text-anchor="middle" stroke="#111" stroke-width="0.7" >15</text>
<line x1="364.5" y1="10.4" x2="368" y2="10.4" stroke-width="1.3" />
<path d="M385,22 L372.6,25.3 L372.6,30" fill="none" stroke-width="1.3" />
<text x="372.6" y="42.8" font-size="12" text-anchor="middle" stroke="#111" stroke-width="0.7" >14</text>
<text x="343.6" y="48.6" font-size="12" text-anchor="middle" stroke="#111" stroke-width="0.7" >15</text>
<line x1="342.3" y1="50" x2="342.3" y2="55.5" stroke-width="1.3" />
<line x1="357.2" y1="78" x2="357.2" y2="84.5" stroke-width="1.3" />
<text x="358.4" y="97.8" font-size="12" text-anchor="middle" stroke="#111" stroke-width="0.7" >14</text>
<text x="418.7" y="44.8" font-size="12" text-anchor="middle" stroke="#111" stroke-width="0.7" >15</text>
<line x1="406" y1="41.5" x2="410" y2="40.5" stroke-width="1.3" />
<path d="M410.5,57.5 L404.3,59.5 L404.3,65" fill="none" stroke-width="1.3" />
<text x="404.3" y="77.1" font-size="12" text-anchor="middle" stroke="#111" stroke-width="0.7" >14</text>
<path d="M482.6,22.3 C481.7,22.5 478.3,23.2 477.2,23.6 C476.1,24.1 476.2,24.3 476.0,24.8 C475.8,25.2 475.7,25.7 475.8,26.1 C476.0,26.5 476.4,27.0 476.8,27.2 C477.2,27.4 477.7,27.4 478.3,27.3 C478.8,27.2 479.9,26.7 480.2,26.6" fill="none" stroke-width="2.5" />
<path d="M482.6,22.3 C481.7,22.5 478.3,23.2 477.2,23.6 C476.1,24.1 476.2,24.3 476.0,24.8 C475.8,25.2 475.7,25.7 475.8,26.1 C476.0,26.5 476.4,27.0 476.8,27.2 C477.2,27.4 477.7,27.4 478.3,27.3 C478.8,27.2 479.9,26.7 480.2,26.6" fill="none" stroke-width="0.8" stroke="#fff"/>
<path d="M506.9,17.5 C508.0,17.3 512.1,16.4 513.3,16.0 C514.6,15.5 514.3,15.3 514.5,14.8 C514.7,14.4 514.8,13.9 514.7,13.5 C514.5,13.1 514.1,12.6 513.7,12.4 C513.3,12.2 512.8,12.2 512.2,12.3 C511.7,12.4 510.6,12.9 510.3,13.0" fill="none" stroke-width="2.5" />
<path d="M506.9,17.5 C508.0,17.3 512.1,16.4 513.3,16.0 C514.6,15.5 514.3,15.3 514.5,14.8 C514.7,14.4 514.8,13.9 514.7,13.5 C514.5,13.1 514.1,12.6 513.7,12.4 C513.3,12.2 512.8,12.2 512.2,12.3 C511.7,12.4 510.6,12.9 510.3,13.0" fill="none" stroke-width="0.8" stroke="#fff"/>
<path d="M482.2,20.5 L506.2,14.5 L507.4,19.4 L483.4,25.3Z" fill="#fff" stroke-width="1.17" />
<line x1="481.6" y1="20.6" x2="483.9" y2="25.2" stroke-width="1.3" />
<line x1="483.3" y1="20.2" x2="485.7" y2="24.7" stroke-width="1.3" />
<line x1="485.0" y1="19.8" x2="487.4" y2="24.3" stroke-width="1.3" />
<line x1="486.7" y1="19.3" x2="489.1" y2="23.9" stroke-width="1.3" />
<line x1="488.4" y1="18.9" x2="490.8" y2="23.5" stroke-width="1.3" />
<line x1="490.2" y1="18.5" x2="492.5" y2="23.0" stroke-width="1.3" />
<line x1="491.9" y1="18.1" x2="494.2" y2="22.6" stroke-width="1.3" />
<line x1="493.6" y1="17.6" x2="495.9" y2="22.2" stroke-width="1.3" />
<line x1="495.3" y1="17.2" x2="497.7" y2="21.8" stroke-width="1.3" />
<line x1="497.0" y1="16.8" x2="499.4" y2="21.4" stroke-width="1.3" />
<line x1="498.7" y1="16.4" x2="501.1" y2="20.9" stroke-width="1.3" />
<line x1="500.4" y1="15.9" x2="502.8" y2="20.5" stroke-width="1.3" />
<line x1="502.2" y1="15.5" x2="504.5" y2="20.1" stroke-width="1.3" />
<line x1="503.9" y1="15.1" x2="506.2" y2="19.7" stroke-width="1.3" />
<line x1="505.6" y1="14.7" x2="507.9" y2="19.2" stroke-width="1.3" />
<path d="M420.4,107.5 C420.4,106.3 420.8,101.9 420.8,100.4 C420.7,99.0 420.4,99.3 420.0,99.0 C419.7,98.7 419.2,98.4 418.8,98.4 C418.3,98.4 417.7,98.7 417.4,99.0 C417.1,99.4 417.0,99.9 417.0,100.4 C416.9,101.0 417.0,102.1 417.1,102.4" fill="none" stroke-width="2.5" />
<path d="M420.4,107.5 C420.4,106.3 420.8,101.9 420.8,100.4 C420.7,99.0 420.4,99.3 420.0,99.0 C419.7,98.7 419.2,98.4 418.8,98.4 C418.3,98.4 417.7,98.7 417.4,99.0 C417.1,99.4 417.0,99.9 417.0,100.4 C416.9,101.0 417.0,102.1 417.1,102.4" fill="none" stroke-width="0.8" stroke="#fff"/>
<path d="M417.8,132.3 C417.7,133.7 417.3,139.2 417.3,140.9 C417.4,142.5 417.7,142.0 418.1,142.3 C418.4,142.6 418.9,142.9 419.3,142.9 C419.8,142.9 420.4,142.6 420.7,142.3 C421.0,141.9 421.1,141.4 421.1,140.9 C421.2,140.3 421.1,139.2 421.0,138.9" fill="none" stroke-width="2.5" />
<path d="M417.8,132.3 C417.7,133.7 417.3,139.2 417.3,140.9 C417.4,142.5 417.7,142.0 418.1,142.3 C418.4,142.6 418.9,142.9 419.3,142.9 C419.8,142.9 420.4,142.6 420.7,142.3 C421.0,141.9 421.1,141.4 421.1,140.9 C421.2,140.3 421.1,139.2 421.0,138.9" fill="none" stroke-width="0.8" stroke="#fff"/>
<path d="M423.3,107.7 L421.9,132.5 L414.9,132.1 L416.3,107.3Z" fill="#fff" stroke-width="1.17" />
<line x1="423.3" y1="107.1" x2="416.2" y2="107.9" stroke-width="1.3" />
<line x1="423.2" y1="108.9" x2="416.2" y2="109.7" stroke-width="1.3" />
<line x1="423.1" y1="110.6" x2="416.1" y2="111.4" stroke-width="1.3" />
<line x1="423.0" y1="112.4" x2="416.0" y2="113.2" stroke-width="1.3" />
<line x1="422.9" y1="114.2" x2="415.9" y2="115.0" stroke-width="1.3" />
<line x1="422.8" y1="115.9" x2="415.8" y2="116.8" stroke-width="1.3" />
<line x1="422.7" y1="117.7" x2="415.7" y2="118.5" stroke-width="1.3" />
<line x1="422.6" y1="119.5" x2="415.6" y2="120.3" stroke-width="1.3" />
<line x1="422.5" y1="121.3" x2="415.5" y2="122.1" stroke-width="1.3" />
<line x1="422.4" y1="123.0" x2="415.4" y2="123.9" stroke-width="1.3" />
<line x1="422.3" y1="124.8" x2="415.3" y2="125.6" stroke-width="1.3" />
<line x1="422.2" y1="126.6" x2="415.2" y2="127.4" stroke-width="1.3" />
<line x1="422.1" y1="128.4" x2="415.1" y2="129.2" stroke-width="1.3" />
<line x1="422.0" y1="130.1" x2="415.0" y2="130.9" stroke-width="1.3" />
<line x1="421.9" y1="131.9" x2="414.9" y2="132.7" stroke-width="1.3" />
<path d="M572.8,67.3 C573.2,65.7 574.8,59.4 575.1,57.5 C575.3,55.6 574.9,56.3 574.6,55.9 C574.3,55.5 573.9,55.2 573.4,55.2 C573.0,55.1 572.4,55.3 572.0,55.5 C571.6,55.8 571.5,56.3 571.3,56.8 C571.1,57.4 571.1,58.5 571.1,58.8" fill="none" stroke-width="2.5" />
<path d="M572.8,67.3 C573.2,65.7 574.8,59.4 575.1,57.5 C575.3,55.6 574.9,56.3 574.6,55.9 C574.3,55.5 573.9,55.2 573.4,55.2 C573.0,55.1 572.4,55.3 572.0,55.5 C571.6,55.8 571.5,56.3 571.3,56.8 C571.1,57.4 571.1,58.5 571.1,58.8" fill="none" stroke-width="0.8" stroke="#fff"/>
<path d="M566.5,89.6 C566.3,90.5 565.4,93.9 565.2,95.0 C565.1,96.2 565.4,96.2 565.7,96.6 C566.0,97.0 566.4,97.3 566.9,97.3 C567.3,97.4 567.9,97.2 568.3,97.0 C568.7,96.7 568.8,96.2 569.0,95.7 C569.2,95.1 569.2,94.0 569.2,93.7" fill="none" stroke-width="2.5" />
<path d="M566.5,89.6 C566.3,90.5 565.4,93.9 565.2,95.0 C565.1,96.2 565.4,96.2 565.7,96.6 C566.0,97.0 566.4,97.3 566.9,97.3 C567.3,97.4 567.9,97.2 568.3,97.0 C568.7,96.7 568.8,96.2 569.0,95.7 C569.2,95.1 569.2,94.0 569.2,93.7" fill="none" stroke-width="0.8" stroke="#fff"/>
<path d="M575.0,67.8 L569.9,90.3 L564.3,89.1 L569.4,66.5Z" fill="#fff" stroke-width="1.17" />
<line x1="575.2" y1="67.2" x2="569.3" y2="67.1" stroke-width="1.3" />
<line x1="574.8" y1="69.0" x2="568.9" y2="68.9" stroke-width="1.3" />
<line x1="574.4" y1="70.7" x2="568.5" y2="70.6" stroke-width="1.3" />
<line x1="574.0" y1="72.4" x2="568.1" y2="72.3" stroke-width="1.3" />
<line x1="573.6" y1="74.2" x2="567.7" y2="74.1" stroke-width="1.3" />
<line x1="573.2" y1="75.9" x2="567.3" y2="75.8" stroke-width="1.3" />
<line x1="572.8" y1="77.6" x2="566.9" y2="77.5" stroke-width="1.3" />
<line x1="572.4" y1="79.4" x2="566.5" y2="79.2" stroke-width="1.3" />
<line x1="572.0" y1="81.1" x2="566.1" y2="81.0" stroke-width="1.3" />
<line x1="571.6" y1="82.8" x2="565.7" y2="82.7" stroke-width="1.3" />
<line x1="571.2" y1="84.6" x2="565.3" y2="84.4" stroke-width="1.3" />
<line x1="570.8" y1="86.3" x2="564.9" y2="86.2" stroke-width="1.3" />
<line x1="570.4" y1="88.0" x2="564.5" y2="87.9" stroke-width="1.3" />
<line x1="570.0" y1="89.8" x2="564.1" y2="89.6" stroke-width="1.3" />
<text x="549.4" y="18.8" font-size="12" text-anchor="middle" stroke="#111" stroke-width="0.7" >3</text>
<line x1="517" y1="14.5" x2="544" y2="13.8" stroke-width="1.3" />
<text x="398.7" y="124.4" font-size="12" text-anchor="middle" stroke="#111" stroke-width="0.7" >3</text>
<line x1="403.5" y1="119.3" x2="415" y2="119.3" stroke-width="1.3" />
<text x="600.7" y="84.3" font-size="12" text-anchor="middle" stroke="#111" stroke-width="0.7" >3</text>
<line x1="575" y1="79.2" x2="595" y2="79.2" stroke-width="1.3" />
<ellipse cx="388.40000000000003" cy="166.9" rx="4.0" ry="4.8" transform="rotate(15 388.40000000000003 166.9)" fill="#fff" stroke-width="1.69" />
<path d="M383.5,160.0 L390.0,162.4 L386.8,171.4 L380.3,169.0Z" fill="#fff" stroke-width="0.01" stroke="#fff"/>
<line x1="383.5" y1="160.0" x2="390.0" y2="162.4" stroke-width="1.69" />
<line x1="380.3" y1="169.0" x2="386.8" y2="171.4" stroke-width="1.69" />
<ellipse cx="381.90000000000003" cy="164.5" rx="4.0" ry="4.8" transform="rotate(15 381.90000000000003 164.5)" fill="#fff" stroke-width="1.69" />
<ellipse cx="382.20000000000005" cy="164.7" rx="2.3" ry="3.0" transform="rotate(15 382.20000000000005 164.7)" fill="none" stroke-width="1.44" />
<ellipse cx="406.2" cy="175.3" rx="4.4" ry="5.2" transform="rotate(15 406.2 175.3)" fill="#fff" stroke-width="1.69" />
<path d="M404.8,169.2 L408.0,170.4 L404.4,180.2 L401.2,179.0Z" fill="#fff" stroke-width="0.01" stroke="#fff"/>
<line x1="404.8" y1="169.2" x2="408.0" y2="170.4" stroke-width="1.69" />
<line x1="401.2" y1="179.0" x2="404.4" y2="180.2" stroke-width="1.69" />
<ellipse cx="403.0" cy="174.10000000000002" rx="4.4" ry="5.2" transform="rotate(15 403.0 174.10000000000002)" fill="#fff" stroke-width="1.69" />
<ellipse cx="402.3" cy="173.70000000000002" rx="2.8" ry="3.4" transform="rotate(15 402.3 173.70000000000002)" fill="#fff" stroke-width="1.56" />
<path d="M398.5,168.5 L403.5,170.5 L401.1,176.9 L396.1,174.9Z" fill="#fff" stroke-width="0.01" stroke="#fff"/>
<line x1="398.5" y1="168.5" x2="403.5" y2="170.5" stroke-width="1.56" />
<line x1="396.1" y1="174.9" x2="401.1" y2="176.9" stroke-width="1.56" />
<ellipse cx="397.3" cy="171.70000000000002" rx="2.8" ry="3.4" transform="rotate(15 397.3 171.70000000000002)" fill="#fff" stroke-width="1.56" />
<text x="384.3" y="146.4" font-size="12" text-anchor="middle" stroke="#111" stroke-width="0.7" >10</text>
<line x1="384.3" y1="148" x2="384.3" y2="159.5" stroke-width="1.3" />
<text x="403.2" y="161.2" font-size="12" text-anchor="middle" stroke="#111" stroke-width="0.7" >9</text>
<line x1="403.2" y1="162.3" x2="403.2" y2="168.5" stroke-width="1.3" />
<ellipse cx="266.5" cy="202.4" rx="2.8" ry="3.3" transform="rotate(15 266.5 202.4)" fill="#fff" stroke-width="1.56" />
<path d="M264.2,197.9 L267.7,199.3 L265.3,205.5 L261.8,204.1Z" fill="#fff" stroke-width="0.01" stroke="#fff"/>
<line x1="264.2" y1="197.9" x2="267.7" y2="199.3" stroke-width="1.56" />
<line x1="261.8" y1="204.1" x2="265.3" y2="205.5" stroke-width="1.56" />
<ellipse cx="263" cy="201" rx="2.8" ry="3.3" transform="rotate(15 263 201)" fill="#fff" stroke-width="1.56" />
<ellipse cx="260.5" cy="199.79999999999998" rx="4.2" ry="5.0" transform="rotate(15 260.5 199.79999999999998)" fill="#fff" stroke-width="1.69" />
<path d="M258.0,193.5 L262.2,195.1 L258.8,204.5 L254.6,202.9Z" fill="#fff" stroke-width="0.01" stroke="#fff"/>
<line x1="258.0" y1="193.5" x2="262.2" y2="195.1" stroke-width="1.69" />
<line x1="254.6" y1="202.9" x2="258.8" y2="204.5" stroke-width="1.69" />
<ellipse cx="256.3" cy="198.2" rx="4.2" ry="5.0" transform="rotate(15 256.3 198.2)" fill="#fff" stroke-width="1.69" />
<ellipse cx="280.1" cy="207.8" rx="4.0" ry="4.8" transform="rotate(15 280.1 207.8)" fill="#fff" stroke-width="1.69" />
<path d="M275.2,200.9 L281.7,203.3 L278.5,212.3 L272.0,209.9Z" fill="#fff" stroke-width="0.01" stroke="#fff"/>
<line x1="275.2" y1="200.9" x2="281.7" y2="203.3" stroke-width="1.69" />
<line x1="272.0" y1="209.9" x2="278.5" y2="212.3" stroke-width="1.69" />
<ellipse cx="273.6" cy="205.4" rx="4.0" ry="4.8" transform="rotate(15 273.6 205.4)" fill="#fff" stroke-width="1.69" />
<ellipse cx="273.90000000000003" cy="205.6" rx="2.3" ry="3.0" transform="rotate(15 273.90000000000003 205.6)" fill="none" stroke-width="1.44" />
<text x="275" y="186.4" font-size="12" text-anchor="middle" stroke="#111" stroke-width="0.7" >10</text>
<line x1="275.6" y1="187.8" x2="275.6" y2="200.3" stroke-width="1.3" />
<text x="235.6" y="202.8" font-size="12" text-anchor="middle" stroke="#111" stroke-width="0.7" >9</text>
<line x1="241.6" y1="198" x2="251.5" y2="198" stroke-width="1.3" />
<path d="M523,21 L554,21 L568,48 L541,186 L480,183 L442.5,122 L442.5,79 Z" fill="none" stroke-width="1.3" stroke-dasharray="46 2.5 3 2.5"/>
<text x="587.9" y="35.8" font-size="12" text-anchor="middle" stroke="#111" stroke-width="0.7" >4</text>
<line x1="561" y1="31.3" x2="581.5" y2="30.7" stroke-width="1.3" />
<path d="M519.3,37.9 L527.2,30.5 C528.1,30.1 530.6,28.7 532.4,28.4 C534.2,28.1 536.1,28.1 538.0,28.6 C539.9,29.1 541.6,30.1 544.0,31.6 C546.4,33.1 550.0,35.6 552.5,37.9 C555.0,40.2 557.1,43.0 558.8,45.3 C560.4,47.6 561.8,50.5 562.4,51.6 L560.3,53.8 C560.4,54.5 561.2,56.6 561.2,58.0 C561.2,59.4 560.9,59.8 560.3,62.2 C559.7,64.7 559.0,69.2 557.7,72.7 C556.4,76.2 554.4,80.1 552.5,83.3 C550.6,86.5 547.7,89.6 546.1,91.7 C544.5,93.8 544.4,94.9 543.0,96.0 C541.6,97.1 539.8,98.1 538.0,98.4 C536.2,98.7 533.3,98.1 532.4,98.0 C531.2,97.8 527.5,97.3 525.0,97.0 C522.5,96.7 519.6,96.3 517.7,95.9 C515.8,95.5 514.6,95.2 513.6,94.5 C512.6,93.8 512.0,92.5 511.8,91.5 C511.6,90.5 511.8,89.5 512.2,88.8 C512.7,88.1 514.1,87.5 514.5,87.3 C515.5,86.6 518.7,85.4 520.8,83.3 C522.9,81.2 525.3,77.9 527.2,74.9 C529.1,71.9 530.9,68.0 532.4,65.4 C533.9,62.8 535.4,60.5 536.0,59.5 L534.3,57.5 L536.4,53.5 C534.5,51.5 531.5,50.5 528.8,49 L527.6,44.8 L528,41.3 L520.8,41.1 Z" fill="#fff" stroke-width="1.69" />
<path d="M527.2,30.5 L528.6,34 L520.8,41.1 M528.6,34 L528,41.3" fill="none" stroke-width="1.3" />
<path d="M528.6,34 L536.8,31.2 M532.4,28.4 L534.6,32 M541.5,30.2 L544.5,36.5 M544.6,32 L547.4,37.8" fill="none" stroke-width="1.17" />
<path d="M536.8,31.2 C538.1,31.8 542.0,33.4 544.5,35.0 C547.0,36.6 549.5,38.9 551.5,41.0 C553.5,43.1 555.0,45.4 556.5,47.5 C558.0,49.6 559.7,52.8 560.3,53.8" fill="none" stroke-width="1.3" />
<path d="M528.2,44.9 C529.1,44.5 531.6,43.0 533.5,42.6 C535.4,42.2 538.1,42.1 539.8,42.2 C541.5,42.4 542.7,42.9 543.6,43.5 C544.5,44.1 545.0,44.9 545.1,46.0 C545.2,47.1 545.0,49.0 544.4,50.0 C543.8,51.0 542.5,51.7 541.5,52.0 C540.5,52.3 539.1,51.7 538.6,51.6" fill="none" stroke-width="1.43" />
<path d="M538.6,51.6 C538.9,51.2 540.1,50.2 540.2,49.5 C540.4,48.8 540.0,47.8 539.5,47.3 C539.0,46.8 537.8,46.6 537.0,46.6 C536.2,46.6 534.9,47.4 534.5,47.5" fill="none" stroke-width="1.3" />
<path d="M538.8,53.0 C539.2,54.2 540.7,57.5 541.0,60.0 C541.3,62.5 541.3,65.2 540.8,68.0 C540.3,70.8 539.1,74.3 538.0,77.0 C536.9,79.7 535.3,82.0 534.0,84.0 C532.7,86.0 530.7,88.0 530.0,88.8" fill="none" stroke-width="1.17" />
<path d="M524,88.3 L530,88.8" fill="none" stroke-width="1.17" />
<ellipse cx="550.9" cy="57.2" rx="1.5" ry="2.2" transform="rotate(20 550.9 57.2)" fill="none" stroke-width="1.3" />
<ellipse cx="536.4" cy="92" rx="5.2" ry="5.6" transform="rotate(0 536.4 92)" fill="#fff" stroke-width="1.56" />
<ellipse cx="536.7" cy="92.3" rx="2.5" ry="3.0" transform="rotate(0 536.7 92.3)" fill="none" stroke-width="1.3" />
<ellipse cx="519.2" cy="91.4" rx="3.1" ry="3.3" transform="rotate(0 519.2 91.4)" fill="none" stroke-width="1.3" />
<ellipse cx="519.2" cy="91.4" rx="1.2" ry="1.4" transform="rotate(0 519.2 91.4)" fill="none" stroke-width="1.04" />
<path d="M494.7,56.3 C494.2,56.5 493.3,56.6 491.5,57.4 C489.7,58.2 486.5,59.6 484.0,61.0 C481.5,62.4 478.9,64.2 476.7,65.9 C474.4,67.7 472.4,69.6 470.5,71.5 C468.6,73.4 467.2,75.3 465.1,77.5 C463.0,79.7 458.9,83.7 457.7,84.9 C457.3,87.1 455.7,93.6 455.2,98.0 C454.7,102.4 454.6,109.1 454.5,111.3 C455.4,112.7 457.9,117.0 459.8,119.8 C461.7,122.6 464.2,126.2 466.1,128.2 C468.1,130.2 469.7,131.1 471.5,132.0 C473.3,132.9 475.2,133.4 476.7,133.5 C478.2,133.6 479.4,133.1 480.5,132.6 C481.6,132.1 482.5,131.2 483.1,130.3 C483.7,129.4 484.1,128.1 484.3,127.0 C484.5,126.0 484.1,124.5 484.1,124.0 C483.6,124.0 481.9,124.2 481.0,124.0 C480.1,123.8 479.7,123.5 478.8,122.9 C477.9,122.3 476.2,121.4 475.5,120.5 C474.8,119.6 474.6,118.6 474.6,117.7 C474.6,116.8 475.0,115.9 475.3,115.2 C475.6,114.5 476.5,113.7 476.7,113.4 C477.4,112.7 479.4,111.7 481.0,109.2 C482.6,106.7 484.3,102.8 486.2,98.6 C488.1,94.4 490.7,88.4 492.6,83.8 C494.6,79.2 496.7,74.3 497.9,71.1 C499.1,67.9 499.6,66.2 500.0,64.5 C500.4,62.8 500.6,61.8 500.4,60.6 C500.1,59.4 499.4,58.0 498.5,57.3 C497.6,56.6 495.3,56.5 494.7,56.3 Z" fill="#fff" stroke-width="1.69" />
<path d="M457.7,84.9 L468.3,89.1 L465.1,117.9 L454.5,111.3" fill="none" stroke-width="1.43" />
<path d="M466.3,89.3 L463.2,116.7" fill="none" stroke-width="0.91" />
<path d="M468.3,89.1 C469.0,87.5 470.4,82.6 472.5,79.6 C474.6,76.6 478.0,73.4 481.0,71.1 C484.0,68.8 488.9,66.8 490.5,65.9" fill="none" stroke-width="1.3" />
<path d="M465.1,117.9 C465.9,118.9 468.2,122.3 470.0,124.0 C471.8,125.7 474.1,127.3 476.0,128.0 C477.9,128.7 480.6,128.2 481.5,128.3" fill="none" stroke-width="1.17" />
<ellipse cx="493.2" cy="68" rx="3.3" ry="3.9" transform="rotate(10 493.2 68)" fill="#fff" stroke-width="1.43" />
<ellipse cx="493.3" cy="68.2" rx="1.5" ry="2.0" transform="rotate(10 493.3 68.2)" fill="none" stroke-width="1.17" />
<ellipse cx="495.8" cy="59" rx="1.3" ry="1.5" transform="rotate(0 495.8 59)" fill="none" stroke-width="1.17" />
<ellipse cx="474.6" cy="102.4" rx="1.5" ry="2.2" transform="rotate(15 474.6 102.4)" fill="none" stroke-width="1.3" />
<path d="M472,140.5 C474.5,138.5 478,138.8 480.5,140.5 L491,147 C496,149.5 501,146.5 507,141 L513.2,137.2 L518.5,138 C522,134.5 524.5,131 526.9,127.3 L532.5,125 C534.5,122 535.5,119 536.8,116.1 L539.5,114.5 L548.3,118.6 C548.3,123.5 546.5,128 544.2,132.2 C542.5,138 540,143.5 536.8,148.4 C534,152.5 530.8,156.3 526.9,159.5 C522.5,163.5 517.5,166.8 512,169.4 C508,171.3 503.8,172.2 499.6,171.9 C496,171.5 492.6,170 489.7,168.2 C486,166.5 482.5,164.5 479.8,162 C474.5,157.5 470.8,151.5 470.3,146 C470.2,143.5 470.8,141.7 472,140.5 Z" fill="#fff" stroke-width="1.56" />
<path d="M539.5,114.5 L538.3,119.8 L546.5,123.5 M538.3,119.8 C537,124 535.3,128 533,131" fill="none" stroke-width="1.17" />
<path d="M530.5,130 C532.5,128.5 536,129.5 536.5,132.5 C537,135.5 535.5,138.3 533.5,138.5 C533.8,136.3 532.8,134.3 530.8,134.5" fill="none" stroke-width="1.3" />
<path d="M491,155 C499,160 508,158.5 515,154 C522,149.5 528,142.5 531,136" fill="none" stroke-width="1.17" />
<path d="M512,169.4 C518.5,167.5 524,163.5 529,159 C533,155 536,151 538.3,147" fill="none" stroke-width="1.17" transform="translate(1.6,1.6)"/>
<ellipse cx="525.6" cy="152.1" rx="1.4" ry="2.0" transform="rotate(25 525.6 152.1)" fill="none" stroke-width="1.17" />
<ellipse cx="474" cy="146" rx="3.0" ry="4.2" transform="rotate(-20 474 146)" fill="none" stroke-width="1.3" />
<ellipse cx="474" cy="146" rx="1.3" ry="2.1" transform="rotate(-20 474 146)" fill="none" stroke-width="1.04" />
<ellipse cx="486" cy="158.3" rx="6.2" ry="7.0" transform="rotate(-20 486 158.3)" fill="#fff" stroke-width="1.56" />
<ellipse cx="486.4" cy="158.6" rx="3.0" ry="3.6" transform="rotate(-20 486.4 158.6)" fill="none" stroke-width="1.3" />
<ellipse cx="580.2" cy="106.10000000000001" rx="4.0" ry="5.2" transform="rotate(15 580.2 106.10000000000001)" fill="#fff" stroke-width="1.69" />
<path d="M577.7,99.7 L581.9,101.2 L578.5,111.0 L574.3,109.5Z" fill="#fff" stroke-width="0.01" stroke="#fff"/>
<line x1="577.7" y1="99.7" x2="581.9" y2="101.2" stroke-width="1.69" />
<line x1="574.3" y1="109.5" x2="578.5" y2="111.0" stroke-width="1.69" />
<ellipse cx="576.0" cy="104.60000000000001" rx="4.0" ry="5.2" transform="rotate(15 576.0 104.60000000000001)" fill="#fff" stroke-width="1.69" />
<ellipse cx="576.2" cy="104.7" rx="2.0" ry="2.8" transform="rotate(15 576.2 104.7)" fill="#666" stroke-width="1.44" />
<ellipse cx="593.5" cy="155.5" rx="4.0" ry="5.2" transform="rotate(15 593.5 155.5)" fill="#fff" stroke-width="1.69" />
<path d="M591.0,149.1 L595.2,150.6 L591.8,160.4 L587.6,158.9Z" fill="#fff" stroke-width="0.01" stroke="#fff"/>
<line x1="591.0" y1="149.1" x2="595.2" y2="150.6" stroke-width="1.69" />
<line x1="587.6" y1="158.9" x2="591.8" y2="160.4" stroke-width="1.69" />
<ellipse cx="589.3" cy="154.0" rx="4.0" ry="5.2" transform="rotate(15 589.3 154.0)" fill="#fff" stroke-width="1.69" />
<ellipse cx="589.5" cy="154.1" rx="2.0" ry="2.8" transform="rotate(15 589.5 154.1)" fill="#666" stroke-width="1.44" />
<ellipse cx="563.3000000000001" cy="179.1" rx="4.0" ry="5.2" transform="rotate(15 563.3000000000001 179.1)" fill="#fff" stroke-width="1.69" />
<path d="M560.8,172.7 L565.0,174.2 L561.6,184.0 L557.4,182.5Z" fill="#fff" stroke-width="0.01" stroke="#fff"/>
<line x1="560.8" y1="172.7" x2="565.0" y2="174.2" stroke-width="1.69" />
<line x1="557.4" y1="182.5" x2="561.6" y2="184.0" stroke-width="1.69" />
<ellipse cx="559.1" cy="177.6" rx="4.0" ry="5.2" transform="rotate(15 559.1 177.6)" fill="#fff" stroke-width="1.69" />
<ellipse cx="559.3000000000001" cy="177.7" rx="2.0" ry="2.8" transform="rotate(15 559.3000000000001 177.7)" fill="#666" stroke-width="1.44" />
<text x="600" y="110.3" font-size="12" text-anchor="middle" stroke="#111" stroke-width="0.7" >5</text>
<line x1="584" y1="105.2" x2="594.5" y2="105.2" stroke-width="1.3" />
<text x="572.3" y="158.0" font-size="12" text-anchor="middle" stroke="#111" stroke-width="0.7" >5</text>
<line x1="577.7" y1="152.9" x2="584.5" y2="152.9" stroke-width="1.3" />
<text x="560.5" y="208.1" font-size="12" text-anchor="middle" stroke="#111" stroke-width="0.7" >5</text>
<line x1="560.3" y1="185" x2="560.3" y2="194" stroke-width="1.3" />
<path d="M596.2,127.8 L613,137 L611,140.6 L594.3,131.3 C593.2,130 594.3,127.6 596.2,127.8 Z" fill="#fff" stroke-width="1.56" />
<path d="M583,189.5 L591,193 L589.8,196 L581.8,192.3 Z" fill="#fff" stroke-width="1.43" />
<ellipse cx="622.4" cy="172.2" rx="29.6" ry="45" transform="rotate(26.5 622.4 172.2)" fill="#fff" stroke-width="1.56" />
<ellipse cx="623.9" cy="173" rx="29.6" ry="45" transform="rotate(26.5 623.9 173)" fill="#fff" stroke-width="1.69" />
<ellipse cx="625" cy="173.6" rx="27.6" ry="42.8" transform="rotate(26.5 625 173.6)" fill="none" stroke-width="1.04" />
<ellipse cx="626.3" cy="175.1" rx="18.8" ry="29.6" transform="rotate(26.5 626.3 175.1)" fill="none" stroke-width="1.56" />
<ellipse cx="627.2" cy="175.6" rx="17" ry="27.2" transform="rotate(26.5 627.2 175.6)" fill="none" stroke-width="1.17" />
<ellipse cx="628" cy="176.2" rx="11.8" ry="18.5" transform="rotate(26.5 628 176.2)" fill="none" stroke-width="1.17" />
<path d="M621,171 L628.6,166.5 L632.6,181.5 L623,186 C620.5,181.5 620,175.5 621,171 Z" fill="#fff" stroke-width="1.56" />
<path d="M628.6,166.5 L630.6,167.3 L634.4,180.3 L632.6,181.5" fill="none" stroke-width="1.17" />
<ellipse cx="633.3" cy="138" rx="1.9" ry="2.8" transform="rotate(26.5 633.3 138)" fill="#fff" stroke-width="1.43" />
<ellipse cx="620.4" cy="142.7" rx="2.565" ry="3.78" transform="rotate(26.5 620.4 142.7)" fill="#fff" stroke-width="1.43" />
<ellipse cx="611" cy="154.5" rx="1.9" ry="2.8" transform="rotate(26.5 611 154.5)" fill="#fff" stroke-width="1.43" />
<ellipse cx="651" cy="156.8" rx="1.9" ry="2.8" transform="rotate(26.5 651 156.8)" fill="#fff" stroke-width="1.43" />
<ellipse cx="650" cy="172.5" rx="1.9" ry="2.8" transform="rotate(26.5 650 172.5)" fill="#fff" stroke-width="1.43" />
<ellipse cx="599.2" cy="192.2" rx="1.9" ry="2.8" transform="rotate(26.5 599.2 192.2)" fill="#fff" stroke-width="1.43" />
<ellipse cx="602.9" cy="203.8" rx="2.565" ry="3.78" transform="rotate(26.5 602.9 203.8)" fill="#fff" stroke-width="1.43" />
<ellipse cx="615.7" cy="207.5" rx="2.09" ry="3.08" transform="rotate(26.5 615.7 207.5)" fill="#fff" stroke-width="1.43" />
<ellipse cx="644" cy="193" rx="1.9" ry="2.8" transform="rotate(26.5 644 193)" fill="#fff" stroke-width="1.43" />
<ellipse cx="628.6" cy="154.5" rx="2.1" ry="3.0" transform="rotate(26.5 628.6 154.5)" fill="#fff" stroke-width="1.43" />
<ellipse cx="628.9" cy="154.7" rx="1.0" ry="1.6" transform="rotate(26.5 628.9 154.7)" fill="none" stroke-width="0.78" />
<ellipse cx="640.4" cy="162.7" rx="2.1" ry="3.0" transform="rotate(26.5 640.4 162.7)" fill="#fff" stroke-width="1.43" />
<ellipse cx="640.6999999999999" cy="162.89999999999998" rx="1.0" ry="1.6" transform="rotate(26.5 640.6999999999999 162.89999999999998)" fill="none" stroke-width="0.78" />
<ellipse cx="615.7" cy="167.5" rx="2.1" ry="3.0" transform="rotate(26.5 615.7 167.5)" fill="#fff" stroke-width="1.43" />
<ellipse cx="616.0" cy="167.7" rx="1.0" ry="1.6" transform="rotate(26.5 616.0 167.7)" fill="none" stroke-width="0.78" />
<ellipse cx="635.7" cy="181.6" rx="2.1" ry="3.0" transform="rotate(26.5 635.7 181.6)" fill="#fff" stroke-width="1.43" />
<ellipse cx="636.0" cy="181.79999999999998" rx="1.0" ry="1.6" transform="rotate(26.5 636.0 181.79999999999998)" fill="none" stroke-width="0.78" />
<ellipse cx="612.1" cy="184" rx="2.1" ry="3.0" transform="rotate(26.5 612.1 184)" fill="#fff" stroke-width="1.43" />
<ellipse cx="612.4" cy="184.2" rx="1.0" ry="1.6" transform="rotate(26.5 612.4 184.2)" fill="none" stroke-width="0.78" />
<ellipse cx="622.7" cy="194.6" rx="2.1" ry="3.0" transform="rotate(26.5 622.7 194.6)" fill="#fff" stroke-width="1.43" />
<ellipse cx="623.0" cy="194.79999999999998" rx="1.0" ry="1.6" transform="rotate(26.5 623.0 194.79999999999998)" fill="none" stroke-width="0.78" />
<text x="627.7" y="108.2" font-size="12" text-anchor="middle" stroke="#111" stroke-width="0.7" >2</text>
<line x1="627.9" y1="110" x2="628.6" y2="129.3" stroke-width="1.3" />
<path d="M656.4,182.7 L666.6,178.4 L675.7,182 L677.5,194.3 L670.7,205.9 L659.1,210.7 L650.2,205.2 L649.3,198.4 Z" fill="#fff" stroke-width="1.69" />
<path d="M656.4,182.7 L655,198.5 L659.1,210.7 M655,198.5 L649.3,198.4" fill="none" stroke-width="1.3" />
<ellipse cx="667" cy="194.6" rx="7.8" ry="11" transform="rotate(24 667 194.6)" fill="#fff" stroke-width="1.56" />
<ellipse cx="667.8" cy="195" rx="6" ry="9" transform="rotate(24 667.8 195)" fill="none" stroke-width="1.3" />
<path d="M671.5,187.5 C674,192 673.5,199 670.5,203" fill="none" stroke-width="0.78" />
<path d="M670,186.8 C672.5,191.5 672,198.5 669,203.3" fill="none" stroke-width="0.78" />
<text x="671.3" y="153.2" font-size="12" text-anchor="middle" stroke="#111" stroke-width="0.7" >13</text>
<line x1="672.3" y1="155" x2="672.3" y2="180.5" stroke-width="1.3" />
<path d="M736.0,171.2 C734.3,170.6 729.5,168.3 726.0,167.8 C722.5,167.3 719.0,167.7 715.3,168.4 C711.6,169.1 707.6,170.3 704.0,172.0 C700.4,173.7 697.3,175.4 693.5,178.5 C689.7,181.6 684.6,186.0 681.0,190.5 C677.4,195.0 673.8,199.4 671.7,205.2 C669.6,211.1 668.4,218.7 668.4,225.4 C668.4,232.1 669.2,238.8 671.7,245.5 C674.2,252.2 678.8,260.5 683.5,265.6 C688.2,270.7 694.6,274.2 700.2,276.3 C705.8,278.4 714.2,277.7 717.0,278.0" fill="#fff" stroke-width="1.82" />
<ellipse cx="723.6" cy="225" rx="33.4" ry="54.2" transform="rotate(20.5 723.6 225)" fill="#fff" stroke-width="1.82" />
<ellipse cx="724.8000000000001" cy="225.6" rx="31.2" ry="51.6" transform="rotate(20.5 724.8000000000001 225.6)" fill="none" stroke-width="1.17" />
<ellipse cx="726.2" cy="226.3" rx="28.4" ry="48" transform="rotate(20.5 726.2 226.3)" fill="none" stroke-width="1.17" />
<ellipse cx="727.6" cy="228.6" rx="22.5" ry="36" transform="rotate(20.5 727.6 228.6)" fill="none" stroke-width="1.3" />
<ellipse cx="719.6" cy="205.9" rx="3.4" ry="4.7" transform="rotate(20.5 719.6 205.9)" fill="#fff" stroke-width="1.56" />
<ellipse cx="743.75" cy="200.2" rx="3.4" ry="4.7" transform="rotate(20.5 743.75 200.2)" fill="#fff" stroke-width="1.56" />
<ellipse cx="751.1" cy="222" rx="3.4" ry="4.7" transform="rotate(20.5 751.1 222)" fill="#fff" stroke-width="1.56" />
<ellipse cx="736.4" cy="250.5" rx="3.4" ry="4.7" transform="rotate(20.5 736.4 250.5)" fill="#fff" stroke-width="1.56" />
<ellipse cx="702.9" cy="235.4" rx="3.4" ry="4.7" transform="rotate(20.5 702.9 235.4)" fill="#fff" stroke-width="1.56" />
<ellipse cx="710.3" cy="260.3" rx="5.6" ry="3.6" transform="rotate(15 710.3 260.3)" fill="#fff" stroke-width="1.56" />
<path d="M703.5,241 L708.5,256.5" fill="none" stroke-width="1.3" stroke-dasharray="2 1.3"/>
<ellipse cx="728.9" cy="230.4" rx="10.6" ry="13.8" transform="rotate(20.5 728.9 230.4)" fill="#fff" stroke-width="1.69" />
<ellipse cx="729.3" cy="230.6" rx="6.4" ry="8.8" transform="rotate(20.5 729.3 230.6)" fill="#fff" stroke-width="1.69" />
<ellipse cx="729.9" cy="231" rx="4.8" ry="7" transform="rotate(20.5 729.9 231)" fill="none" stroke-width="1.04" />
<text x="713.8" y="140.8" font-size="12" text-anchor="middle" stroke="#111" stroke-width="0.7" >1</text>
<line x1="715" y1="145" x2="716" y2="167.5" stroke-width="1.3" />
<ellipse cx="767.3" cy="250.3" rx="8.2" ry="11.2" transform="rotate(15 767.3 250.3)" fill="#fff" stroke-width="1.82" />
<path d="M764.5,241.5 L772.5,239.6 L778.6,244.6 L779.4,254.2 L775,260.6 L767,261.6 L762.5,256 L762,246.5 Z" fill="#fff" stroke-width="1.69" />
<path d="M764.5,241.5 L768.5,245.5 L767.5,255.5 L767,261.6 M768.5,245.5 L772.5,239.6" fill="none" stroke-width="1.17" />
<ellipse cx="772.8" cy="252.6" rx="5.6" ry="7.6" transform="rotate(15 772.8 252.6)" fill="#fff" stroke-width="1.43" />
<ellipse cx="773" cy="252.9" rx="3.4" ry="4.8" transform="rotate(15 773 252.9)" fill="#2a2a2a" stroke-width="1.17" />
<ellipse cx="773.6" cy="253.4" rx="1.5" ry="2.5" transform="rotate(15 773.6 253.4)" fill="#fff" stroke-width="0.52" />
<text x="768.2" y="291.4" font-size="12" text-anchor="middle" stroke="#111" stroke-width="0.7" >20</text>
<line x1="768.6" y1="262.5" x2="768.6" y2="278" stroke-width="1.3" />
<g opacity="0.44" stroke="none" fill="#ee2a1c">
<path d="M508.5,324.0 L610.8,146.9 L645.2,206.7 L632.0,229.6 L609.9,191.2 L533.2,324.0Z"/>
<path d="M576.4,284.4 L654.8,148.6 L756.0,324.0 L548.0,324.0 L559.7,303.8 L720.3,303.8 L654.8,190.2 L612.3,263.8 L651.7,263.8 L638.8,241.3 L650.1,221.6 L686.3,284.4Z"/>
</g>
<text transform="translate(0 350.6) skewX(-9)" font-weight="bold" font-size="30.74" stroke-linejoin="miter" stroke-width="2.2" style="mix-blend-mode:multiply"><tspan style="fill:#fad18d" stroke="#fad18d"><tspan x="472.2" textLength="28.84" lengthAdjust="spacingAndGlyphs">A</tspan><tspan x="501.7" textLength="22.87" lengthAdjust="spacingAndGlyphs">U</tspan><tspan x="525.6" textLength="23.87" lengthAdjust="spacingAndGlyphs">T</tspan><tspan x="554.0" textLength="31.46" lengthAdjust="spacingAndGlyphs">O</tspan></tspan><tspan style="fill:#f8a39d" stroke="#f8a39d"><tspan x="587.1" textLength="30.71" lengthAdjust="spacingAndGlyphs">M</tspan><tspan x="620.2" textLength="30.02" lengthAdjust="spacingAndGlyphs">O</tspan><tspan x="649.5" textLength="22.77" lengthAdjust="spacingAndGlyphs">T</tspan><tspan x="676.3" textLength="30.02" lengthAdjust="spacingAndGlyphs">O</tspan></tspan><tspan style="fill:#8c8c8c" stroke="#8c8c8c"><tspan x="707.6" textLength="26.20" lengthAdjust="spacingAndGlyphs">H</tspan><tspan x="736.1" textLength="26.20" lengthAdjust="spacingAndGlyphs">U</tspan><tspan x="766.0" textLength="23.09" lengthAdjust="spacingAndGlyphs">B</tspan></tspan></text>
<text x="607.3" y="395" font-size="11" textLength="66.3" lengthAdjust="spacingAndGlyphs" style="font-family:'Liberation Mono',monospace;fill:#222" stroke="#222" stroke-width="0.35">GY1G-E0700</text>
</svg>
</body></html>
